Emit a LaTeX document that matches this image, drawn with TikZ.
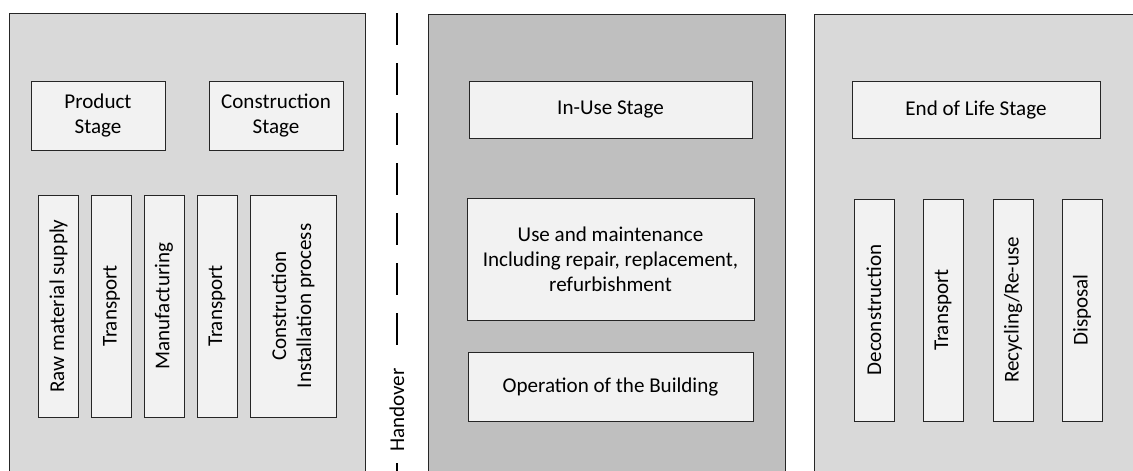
\documentclass[tikz,border=0pt]{standalone}
\usepackage{fontspec}
\setmainfont{Carlito}
\definecolor{panellight}{HTML}{D9D9D9}
\definecolor{paneldark}{HTML}{BFBFBF}
\definecolor{boxfill}{HTML}{F2F2F2}
\definecolor{edgegray}{HTML}{262626}
\tikzset{
  panel/.style={draw=edgegray,line width=0.75pt},
  stagebox/.style={draw=edgegray,fill=boxfill,line width=0.75pt,align=center,inner sep=2pt},
  phasebox/.style={stagebox,rotate=90,minimum width=166.5pt,minimum height=30pt},
  handline/.style={line width=1.3pt,dash pattern=on 24pt off 13.5pt}
}
\begin{document}
\begin{tikzpicture}[x=0.75pt,y=-0.75pt,font=\fontsize{15.8}{18.75}\selectfont]
  \useasboundingbox (0,0) rectangle (1133,471);
  \clip (0,0) rectangle (1133,471);
  \draw[panel,fill=panellight] (9,13) rectangle (365,490);
  \draw[panel,fill=paneldark] (428,14) rectangle (785,490);
  \draw[panel,fill=panellight] (814,14) rectangle (1150,490);

  \coordinate (hand top) at (397,13);
  \coordinate (hand bot) at (397,490);
  \draw[handline] (hand top) -- (hand bot);
  \node[fill=white,rotate=90,inner xsep=6pt,inner ysep=1pt] (handover) at (397,410) {Handover};

  \node[stagebox,minimum width=100.5pt,minimum height=51.75pt] (product) at (98,115.5) {Product\\Stage};
  \node[stagebox,minimum width=100.5pt,minimum height=51.75pt] (construction) at (276,115.5) {Construction\\Stage};
  \foreach \x/\name/\label in {58.5/raw/Raw material supply,111.5/transport1/Transport,164/manufacturing/Manufacturing,217/transport2/Transport}{
    \node[phasebox] (\name) at (\x,306) {\label};
  }
  \node[phasebox,minimum height=64.5pt] (installation) at (293,306) {Construction\\Installation process};

  \node[stagebox,minimum width=212.25pt,minimum height=42.75pt] (inuse) at (610.5,109.5) {In-Use Stage};
  \node[stagebox,minimum width=215.25pt,minimum height=91.5pt] (maintenance) at (610.5,259) {Use and maintenance\\Including repair, replacement,\\refurbishment};
  \node[stagebox,minimum width=213.75pt,minimum height=51.75pt] (operation) at (610.5,386.5) {Operation of the Building};

  \node[stagebox,minimum width=186pt,minimum height=42.75pt] (endoflife) at (976,109.5) {End of Life Stage};
  \foreach \x/\name/\label in {874/deconstruction/Deconstruction,943/transport3/Transport,1013/recycling/{Recycling/Re-use},1082/disposal/Disposal}{
    \node[phasebox] (\name) at (\x,310) {\label};
  }
\end{tikzpicture}
\end{document}
